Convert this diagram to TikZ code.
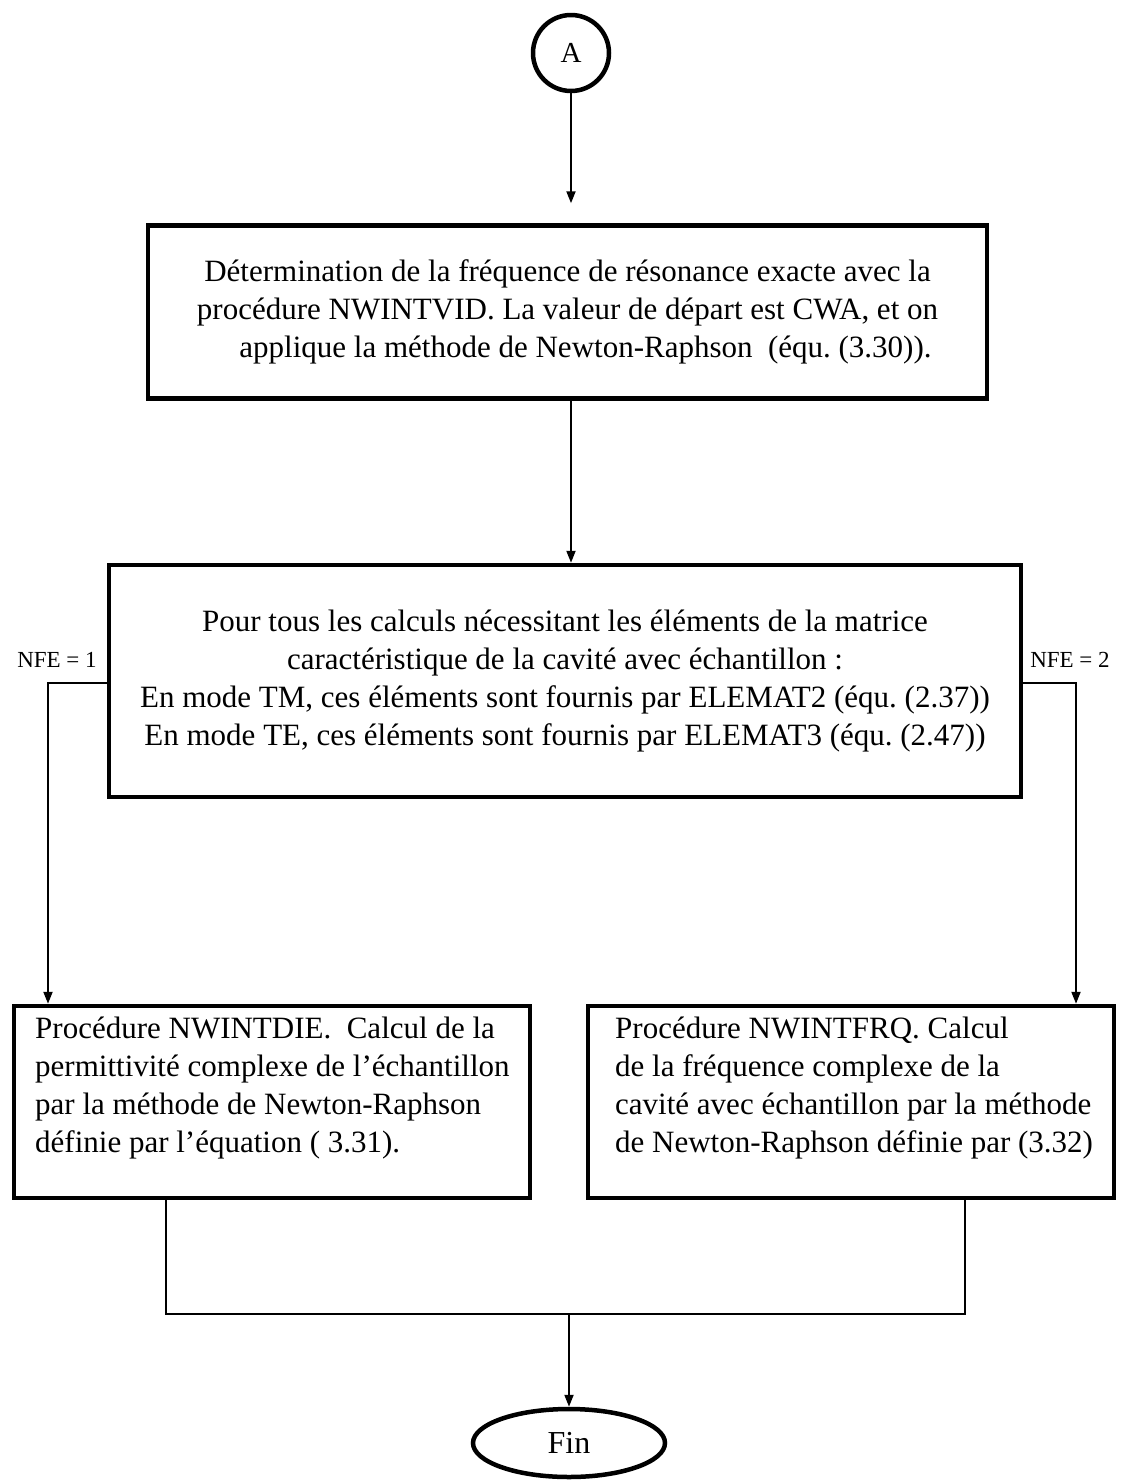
\documentclass[tikz,border=0pt]{standalone}
\usepackage{fontspec}
\setmainfont{Liberation Serif}
\usetikzlibrary{arrows.meta,shapes.geometric}
\frenchspacing
\begin{document}
\begin{tikzpicture}[x=1pt,y=-1pt,
  box/.style={draw, line width=4.5pt, inner sep=0pt},
  conn/.style={line width=2pt},
  arr/.style={conn, -{Triangle[length=12pt,width=9pt]}},
  txt/.style={font=\fontsize{31}{38}\selectfont},
  small/.style={font=\fontsize{23}{26}\selectfont},
]
\useasboundingbox (0,0) rectangle (1124,1481);
\node[circle, draw, line width=4.5pt, minimum size=76pt, inner sep=0pt, font=\fontsize{29}{32}\selectfont] (A) at (571,53) {A};

\node[box, minimum width=839pt, minimum height=173pt, txt, align=center] (b1) at (567.5,312)
 {Détermination de la fréquence de résonance exacte avec la\\
  procédure NWINTVID. La valeur de départ est CWA, et on\\
  \hspace*{36pt}applique la méthode de Newton-Raphson\ \ (équ. (3.30)).};

\node[box, minimum width=912pt, minimum height=232pt, txt, align=center] (b2) at (565,681)
 {Pour tous les calculs nécessitant les éléments de la matrice\\
  caractéristique de la cavité avec échantillon :\\
  En mode TM, ces éléments sont fournis par ELEMAT2 (équ. (2.37))\\
  En mode TE, ces éléments sont fournis par ELEMAT3 (équ. (2.47))};

\node[box, minimum width=516pt, minimum height=192pt] (b3) at (272,1102) {};
\node[txt, align=left, anchor=north west, inner sep=0pt] (t3) at (35,1017)
 {Procédure NWINTDIE.\ \ Calcul de la\\
  permittivité complexe de l’échantillon\\
  par la méthode de Newton-Raphson\\
  définie par l’équation ( 3.31).};

\node[box, minimum width=526pt, minimum height=192pt] (b4) at (851,1102) {};
\node[txt, align=left, anchor=north west, inner sep=0pt] (t4) at (615,1017)
 {Procédure NWINTFRQ. Calcul\\
  de la fréquence complexe de la\\
  cavité avec échantillon par la méthode\\
  de Newton-Raphson définie par (3.32)};

\node[ellipse, draw, line width=4.5pt, minimum width=192pt, minimum height=68pt, inner sep=0pt, font=\fontsize{32}{36}\selectfont] (fin) at (569,1443) {Fin};

\node[small] (nfe1) at (57,660) {NFE = 1};
\node[small] (nfe2) at (1070,660) {NFE = 2};

\coordinate (l1) at (48,683);
\coordinate (r1) at (1076,683);
\coordinate (jl) at (166,1314);
\coordinate (jr) at (965,1314);
\coordinate (m) at (569,1314);

\draw[arr, shorten >=20pt] (A.south) -- (A.south |- b1.north);
\draw[arr] (b1.south -| A) -- (b2.north -| A);
\draw[arr] (b2.west |- l1) -- (l1) -- (l1 |- b3.north);
\draw[arr] (b2.east |- r1) -- (r1) -- (r1 |- b4.north);
\draw[conn] (jl |- b3.south) -- (jl) -- (jr) -- (jr |- b4.south);
\draw[arr] (m) -- (fin);
\end{tikzpicture}
\end{document}
